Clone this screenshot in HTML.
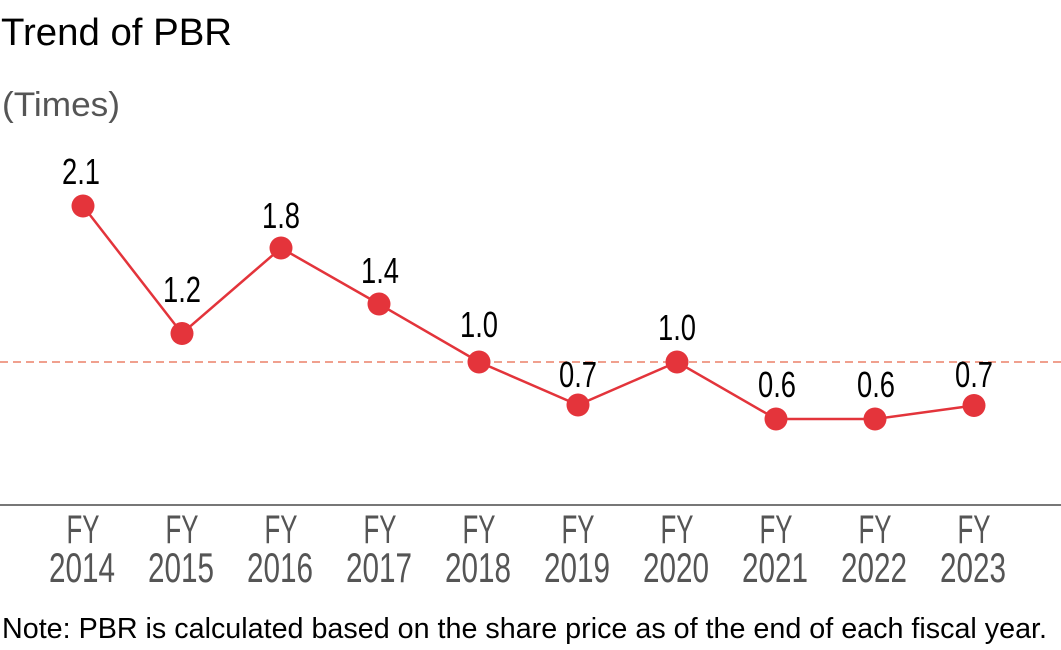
<!DOCTYPE html>
<html>
<head>
<meta charset="utf-8">
<style>
html,body{margin:0;padding:0;background:#fff;}
svg{display:block;}
</style>
</head>
<body>
<svg width="1061" height="650" viewBox="0 0 1061 650" xmlns="http://www.w3.org/2000/svg" font-family="'Liberation Sans', sans-serif">
  <rect width="1061" height="650" fill="#fff"/>
  <text x="1" y="45" font-size="38" fill="#000" textLength="231" lengthAdjust="spacingAndGlyphs">Trend of PBR</text>
  <text x="2" y="116" font-size="34" fill="#555" textLength="118" lengthAdjust="spacingAndGlyphs">(Times)</text>

  <line x1="0" y1="362" x2="1061" y2="362" stroke="#f0a08e" stroke-width="2" stroke-dasharray="8,5"/>
  <line x1="0" y1="505" x2="1061" y2="505" stroke="#777" stroke-width="2"/>

  <polyline fill="none" stroke="#e3343b" stroke-width="2.5"
    points="83,206 182,333.5 281,248 379,304 479,362 578,405 677,362 776,419 875,419 974,405.5"/>
  <g fill="#e4343b">
    <circle cx="83" cy="206" r="11.5"/>
    <circle cx="182" cy="333.5" r="11.5"/>
    <circle cx="281" cy="248" r="11.5"/>
    <circle cx="379" cy="304" r="11.5"/>
    <circle cx="479" cy="362" r="11.5"/>
    <circle cx="578" cy="405" r="11.5"/>
    <circle cx="677" cy="362" r="11.5"/>
    <circle cx="776" cy="419" r="11.5"/>
    <circle cx="875" cy="419" r="11.5"/>
    <circle cx="974" cy="405.5" r="11.5"/>
  </g>

  <g font-size="36" fill="#000" text-anchor="middle">
    <text x="81" y="184" textLength="38" lengthAdjust="spacingAndGlyphs">2.1</text>
    <text x="182" y="302" textLength="38" lengthAdjust="spacingAndGlyphs">1.2</text>
    <text x="281" y="228" textLength="38" lengthAdjust="spacingAndGlyphs">1.8</text>
    <text x="380" y="283" textLength="38" lengthAdjust="spacingAndGlyphs">1.4</text>
    <text x="479" y="337" textLength="38" lengthAdjust="spacingAndGlyphs">1.0</text>
    <text x="578" y="387" textLength="38" lengthAdjust="spacingAndGlyphs">0.7</text>
    <text x="677" y="340" textLength="38" lengthAdjust="spacingAndGlyphs">1.0</text>
    <text x="777" y="397" textLength="38" lengthAdjust="spacingAndGlyphs">0.6</text>
    <text x="876" y="397" textLength="38" lengthAdjust="spacingAndGlyphs">0.6</text>
    <text x="974" y="387" textLength="38" lengthAdjust="spacingAndGlyphs">0.7</text>
  </g>

  <g font-size="40" fill="#555" text-anchor="middle">
    <text x="83" y="543" textLength="33" lengthAdjust="spacingAndGlyphs">FY</text>
    <text x="182" y="543" textLength="33" lengthAdjust="spacingAndGlyphs">FY</text>
    <text x="281" y="543" textLength="33" lengthAdjust="spacingAndGlyphs">FY</text>
    <text x="380" y="543" textLength="33" lengthAdjust="spacingAndGlyphs">FY</text>
    <text x="479" y="543" textLength="33" lengthAdjust="spacingAndGlyphs">FY</text>
    <text x="578" y="543" textLength="33" lengthAdjust="spacingAndGlyphs">FY</text>
    <text x="677" y="543" textLength="33" lengthAdjust="spacingAndGlyphs">FY</text>
    <text x="776" y="543" textLength="33" lengthAdjust="spacingAndGlyphs">FY</text>
    <text x="875" y="543" textLength="33" lengthAdjust="spacingAndGlyphs">FY</text>
    <text x="974" y="543" textLength="33" lengthAdjust="spacingAndGlyphs">FY</text>
  </g>
  <g font-size="42" fill="#555" text-anchor="middle">
    <text x="82" y="582" textLength="66" lengthAdjust="spacingAndGlyphs">2014</text>
    <text x="181" y="582" textLength="66" lengthAdjust="spacingAndGlyphs">2015</text>
    <text x="280" y="582" textLength="66" lengthAdjust="spacingAndGlyphs">2016</text>
    <text x="379" y="582" textLength="66" lengthAdjust="spacingAndGlyphs">2017</text>
    <text x="478" y="582" textLength="66" lengthAdjust="spacingAndGlyphs">2018</text>
    <text x="577" y="582" textLength="66" lengthAdjust="spacingAndGlyphs">2019</text>
    <text x="676" y="582" textLength="66" lengthAdjust="spacingAndGlyphs">2020</text>
    <text x="775" y="582" textLength="66" lengthAdjust="spacingAndGlyphs">2021</text>
    <text x="874" y="582" textLength="66" lengthAdjust="spacingAndGlyphs">2022</text>
    <text x="973" y="582" textLength="66" lengthAdjust="spacingAndGlyphs">2023</text>
  </g>

  <text x="2" y="638" font-size="29" fill="#000" textLength="1045" lengthAdjust="spacingAndGlyphs">Note: PBR is calculated based on the share price as of the end of each fiscal year.</text>
</svg>
</body>
</html>
